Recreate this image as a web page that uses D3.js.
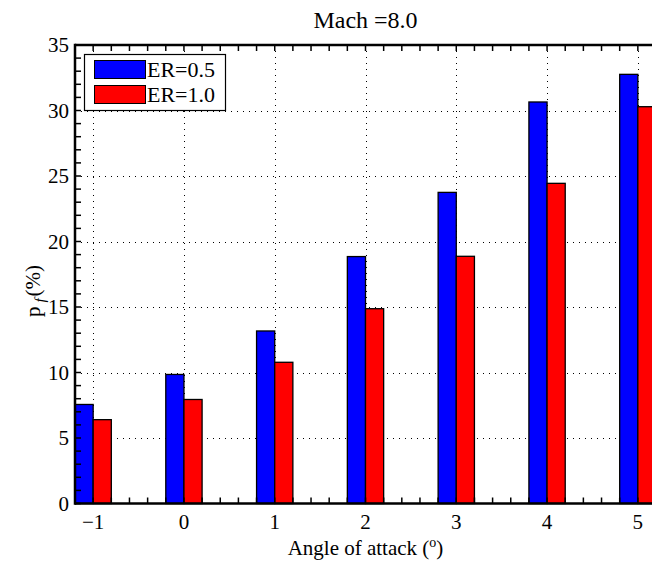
<!DOCTYPE html>
<html><head><meta charset="utf-8">
<script src="https://cdn.jsdelivr.net/npm/d3@7"></script>
<style>
html,body{margin:0;padding:0;background:#fff;overflow:hidden}
</style></head><body>
<script>
// ---- data ----
const categories = [-1, 0, 1, 2, 3, 4, 5];
const er05 = [7.56, 9.85, 13.17, 18.85, 23.75, 30.65, 32.76];
const er10 = [6.4, 7.94, 10.78, 14.87, 18.87, 24.44, 30.29];
const seriesNames = ["ER=0.5", "ER=1.0"];
const seriesColors = ["#0000ff", "#ff0000"];
const yTicks = [0, 5, 10, 15, 20, 25, 30, 35];
const titleText = "Mach =8.0";

const W = 652, H = 561;
const FONT = "'Liberation Serif', 'Times New Roman', Times, 'DejaVu Serif', serif";
const svg = d3.select("body").append("svg").attr("width", W).attr("height", H)
  .attr("font-family", FONT).style("font-family", FONT);

const x = d3.scaleLinear().domain([-1.2, 5.2]).range([75, 656]);
const y = d3.scaleLinear().domain([0, 35]).range([503.5, 45]);
const barW = 0.2;

// grid
const grid = svg.append("g").attr("stroke", "#000").attr("stroke-width", 1).attr("stroke-dasharray", "1,5");
grid.selectAll("line.v").data(categories).join("line")
  .attr("x1", d => Math.round(x(d)) + 0.5).attr("x2", d => Math.round(x(d)) + 0.5)
  .attr("y1", y(35)).attr("y2", y(0));
grid.selectAll("line.h").data(yTicks.filter(t => t > 0 && t < 35)).join("line")
  .attr("class", "h")
  .attr("x1", x(-1.2)).attr("x2", x(5.2))
  .attr("y1", d => Math.round(y(d)) + 0.5).attr("y2", d => Math.round(y(d)) + 0.5);

// bars
const series = [er05, er10];
series.forEach((vals, si) => {
  svg.append("g").selectAll("rect").data(categories.map((c, i) => ({c, v: vals[i]}))).join("rect")
    .attr("x", d => x(d.c - barW + si * barW))
    .attr("width", d => x(d.c + si * barW) - x(d.c - barW + si * barW))
    .attr("y", d => y(d.v))
    .attr("height", d => y(0) - y(d.v))
    .attr("fill", seriesColors[si])
    .attr("stroke", "#000").attr("stroke-width", 1.3);
});

// axes
const tickLen = 6;
const minorX = d3.range(-1.2, 5.21, 0.2).map(v => +v.toFixed(2));
const minorY = d3.range(0, 36, 1);
const axG = svg.append("g").attr("stroke", "#000").attr("stroke-width", 1.5);
axG.selectAll("line.bx").data(minorX).join("line").attr("class","bx")
  .attr("x1", d => x(d)).attr("x2", d => x(d)).attr("y1", y(0)).attr("y2", y(0) - tickLen);
axG.selectAll("line.tx").data(minorX).join("line").attr("class","tx")
  .attr("x1", d => x(d)).attr("x2", d => x(d)).attr("y1", y(35)).attr("y2", y(35) + tickLen);
axG.selectAll("line.ly").data(minorY).join("line").attr("class","ly")
  .attr("x1", x(-1.2)).attr("x2", x(-1.2) + tickLen).attr("y1", d => y(d)).attr("y2", d => y(d));

// frame
svg.append("line").attr("x1", x(-1.2)).attr("x2", W).attr("y1", y(0)).attr("y2", y(0)).attr("stroke", "#000").attr("stroke-width", 2.5);
svg.append("line").attr("x1", x(-1.2)).attr("x2", W).attr("y1", y(35)).attr("y2", y(35)).attr("stroke", "#000").attr("stroke-width", 2.5);
svg.append("line").attr("x1", x(-1.2)).attr("x2", x(-1.2)).attr("y1", y(0) + 1.2).attr("y2", y(35) - 1.2).attr("stroke", "#000").attr("stroke-width", 2.5);

// tick labels
svg.append("g").selectAll("text").data(categories).join("text")
  .attr("x", d => x(d)).attr("y", 529).attr("text-anchor", "middle").attr("font-size", 21)
  .text(d => d < 0 ? "\u2212" + Math.abs(d) : d);
svg.append("g").selectAll("text").data(yTicks).join("text")
  .attr("x", 69).attr("y", d => y(d) + 7).attr("text-anchor", "end").attr("font-size", 21)
  .text(d => d);

// title
svg.append("text").attr("x", (x(-1.2) + x(5.2)) / 2).attr("y", 28).attr("text-anchor", "middle")
  .attr("font-size", 24).text(titleText);

// x label
const xl = svg.append("text").attr("x", (x(-1.2) + x(5.2)) / 2).attr("y", 555).attr("text-anchor", "middle").attr("font-size", 21);
xl.append("tspan").text("Angle of attack (");
xl.append("tspan").attr("font-size", 14).attr("dy", -8).text("o");
xl.append("tspan").attr("dy", 8).text(")");

// y label
const yl = svg.append("text").attr("transform", "translate(40,291) rotate(-90)").attr("text-anchor", "middle").attr("font-size", 21);
yl.append("tspan").text("p");
yl.append("tspan").attr("font-size", 15).attr("font-style", "italic").attr("dy", 5).attr("dx", 4).text("f");
yl.append("tspan").attr("dy", -5).attr("dx", 2).text("(%)");

// legend
const lg = svg.append("g");
lg.append("rect").attr("x", 84.5).attr("y", 54.5).attr("width", 141).attr("height", 56)
  .attr("fill", "#fff").attr("stroke", "#000").attr("stroke-width", 1.2);
seriesNames.forEach((n, i) => {
  lg.append("rect").attr("x", 94.5).attr("y", 60.5 + i * 25).attr("width", 51).attr("height", 18)
    .attr("fill", seriesColors[i]).attr("stroke", "#000").attr("stroke-width", 1);
  lg.append("text").attr("x", 147).attr("y", 77 + i * 25).attr("font-size", 22).text(n);
});
</script>
</body></html>
